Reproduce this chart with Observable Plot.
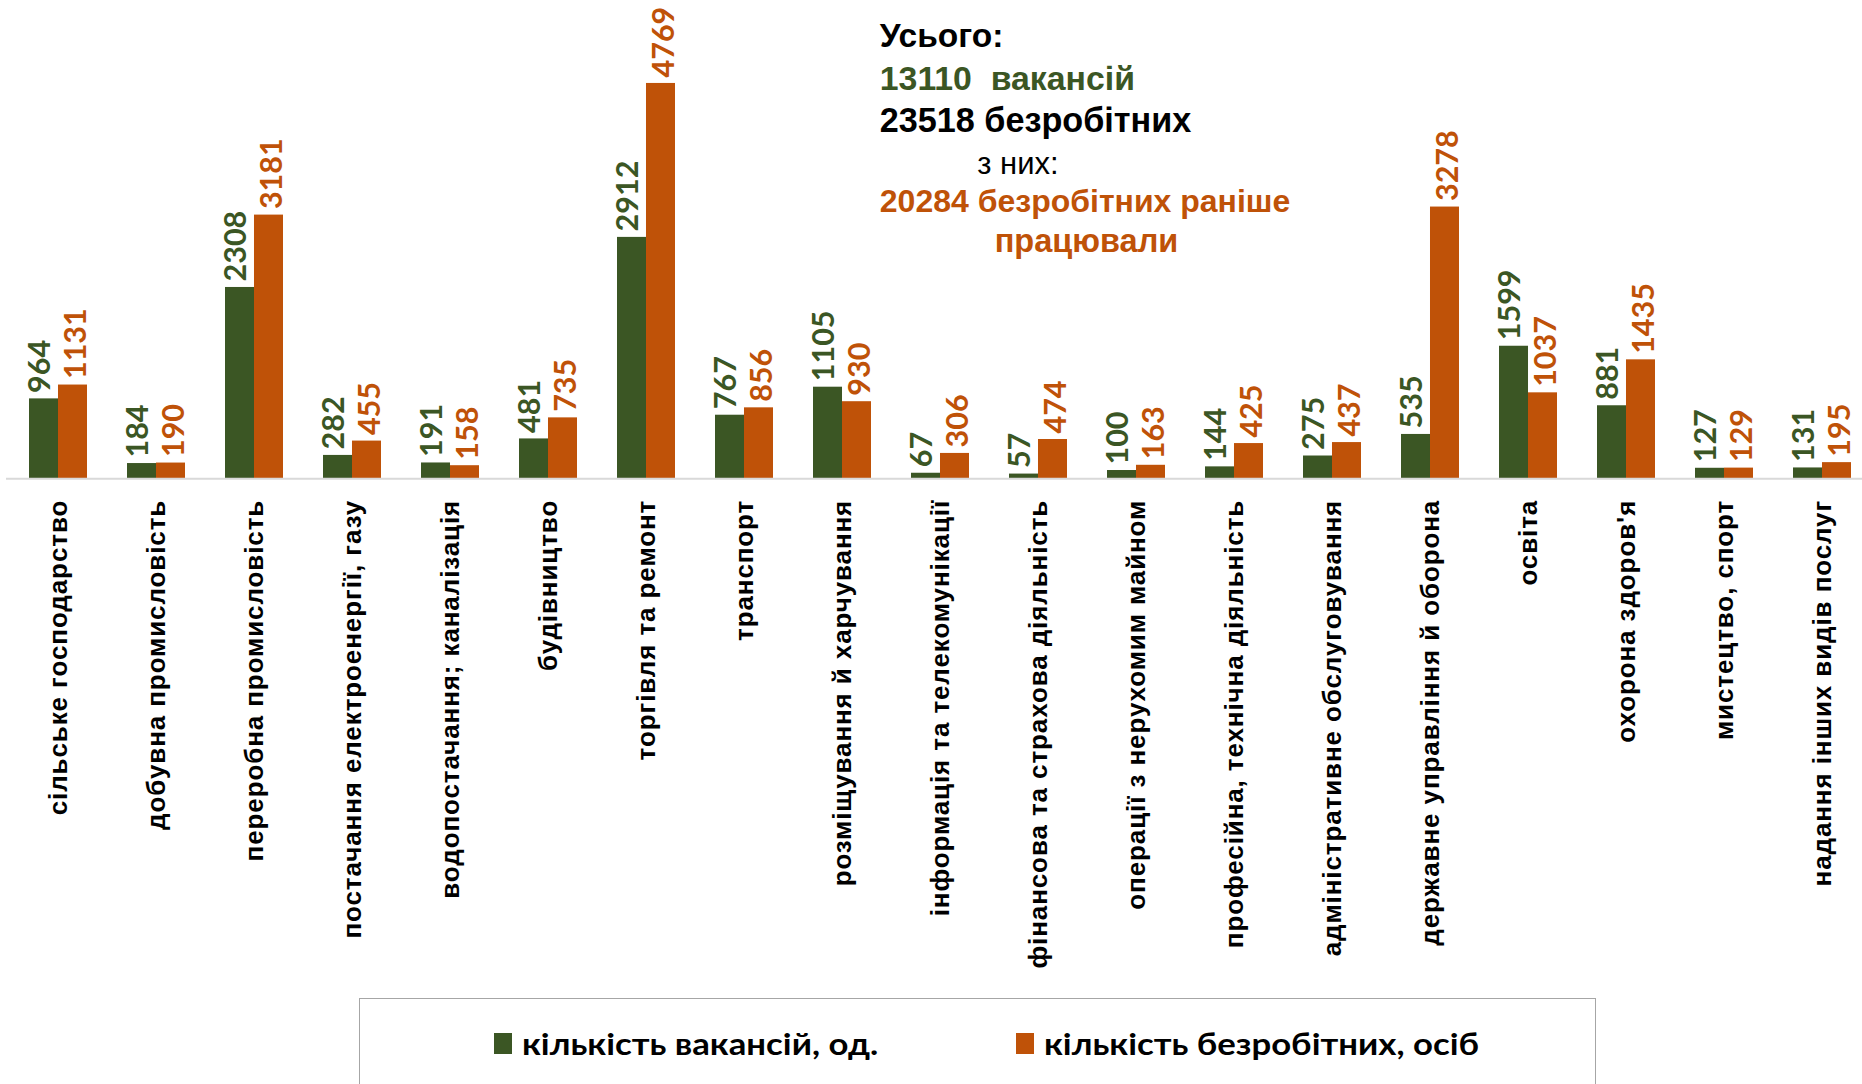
<!DOCTYPE html>
<html>
<head>
<meta charset="utf-8">
<script src="https://cdn.jsdelivr.net/npm/d3@7"></script>
<script src="https://cdn.jsdelivr.net/npm/@observablehq/plot@0.6"></script>
<style>
  html, body { margin: 0; padding: 0; background: #fff; }
  #wrap { position: relative; width: 1862px; height: 1084px; overflow: hidden; }
  #wrap svg g[aria-label="x-axis tick label"] text { letter-spacing: 0.9px; }
  #legend { position: absolute; left: 359px; top: 998px; width: 1237px; height: 90px;
            border: 1.5px solid #a6a6a6; border-bottom: none; box-sizing: border-box; }
  .sw { position: absolute; top: 34px; width: 18px; height: 21px; }
  .lt { position: absolute; top: 25px; font-family: Lato, sans-serif; font-weight: bold;
        font-size: 31px; line-height: 38px; color: #000; white-space: nowrap;
        transform: scaleX(1.12); transform-origin: 0 50%; }
</style>
</head>
<body>
<div id="wrap"></div>
<script>
const categories = [
  "сільське господарство",
  "добувна промисловість",
  "переробна промисловість",
  "постачання електроенергії, газу",
  "водопостачання; каналізація",
  "будівництво",
  "торгівля та ремонт",
  "транспорт",
  "розміщування й харчування",
  "інформація та телекомунікації",
  "фінансова та страхова діяльність",
  "операції з нерухомим майном",
  "професійна, технічна діяльність",
  "адміністративне обслуговування",
  "державне управління й оборона",
  "освіта",
  "охорона здоров'я",
  "мистецтво, спорт",
  "надання інших видів послуг"
];
const vacancies = [964, 184, 2308, 282, 191, 481, 2912, 767, 1105, 67, 57, 100, 144, 275, 535, 1599, 881, 127, 131];
const unemployed = [1131, 190, 3181, 455, 158, 735, 4769, 856, 930, 306, 474, 163, 425, 437, 3278, 1037, 1435, 129, 195];
const seriesNames = ["кількість вакансій, од.", "кількість безробітних, осіб"];
const summaryLines = [
  "Усього:",
  "13110\u00A0\u00A0вакансій",
  "23518 безробітних",
  "з них:",
  "20284 безробітних раніше",
  "працювали"
];

const GREEN = "#3b5624";
const ORANGE = "#bf5208";

const rows = categories.map((c, i) => ({cat: c, vac: vacancies[i], unemp: unemployed[i]}));

const W = 1862, H = 998;
const xRange = [6.6, 1873.8];
const padInner = 0.41;
const step = (xRange[1] - xRange[0]) / categories.length;
const bw = step * (1 - padInner);
const half = bw / 2;

const labelFont = {fontFamily: "Lato, sans-serif", fontWeight: "bold", fontSize: 30.5};
const annFamily = "Liberation Sans, Arial, sans-serif";

const chart = Plot.plot({
  width: W,
  height: H,
  marginTop: 0,
  marginLeft: 6,
  marginRight: 0,
  marginBottom: H - 478.3,
  x: {domain: categories, range: xRange, paddingInner: padInner, paddingOuter: padInner / 2, axis: null},
  y: {domain: [0, 5000], range: [478.3, 63.8], axis: null},
  marks: [
    Plot.barY(rows, {x: "cat", y: "vac", fill: GREEN, insetRight: half}),
    Plot.barY(rows, {x: "cat", y: "unemp", fill: ORANGE, insetLeft: half}),
    Plot.ruleY([0], {stroke: "#d9d9d9", strokeWidth: 2}),
    Plot.text(rows, {x: "cat", y: "vac", text: d => String(d.vac), rotate: -90, textAnchor: "start",
      lineAnchor: "middle", dx: -half / 2 - 4, dy: -6, fill: GREEN, ...labelFont}),
    Plot.text(rows, {x: "cat", y: "unemp", text: d => String(d.unemp), rotate: -90, textAnchor: "start",
      lineAnchor: "middle", dx: half / 2 + 3, dy: -6, fill: ORANGE, ...labelFont}),
    Plot.axisX({domain: categories, label: null, tickRotate: -90, tickSize: 0, tickPadding: 21,
      fontSize: 26, fontWeight: "bold", fontFamily: annFamily, fill: "#000"}),
    Plot.text([summaryLines[0]], {frameAnchor: "top-left", dx: 873.3, dy: 46.7, lineAnchor: "bottom", textAnchor: "start", fontWeight: "bold", fill: "#000", fontFamily: annFamily, fontSize: 33.5}),
    Plot.text([summaryLines[1]], {frameAnchor: "top-left", dx: 873.3, dy: 89.5, lineAnchor: "bottom", textAnchor: "start", fontWeight: "bold", fill: GREEN, fontFamily: annFamily, fontSize: 33.8}),
    Plot.text([summaryLines[2]], {frameAnchor: "top-left", dx: 873.3, dy: 131, lineAnchor: "bottom", textAnchor: "start", fontWeight: "bold", fill: "#000", fontFamily: annFamily, fontSize: 34.2}),
    Plot.text([summaryLines[3]], {frameAnchor: "top-left", dx: 970.7, dy: 173, lineAnchor: "bottom", textAnchor: "start", fontWeight: "normal", fill: "#000", fontFamily: annFamily, fontSize: 31}),
    Plot.text([summaryLines[4]], {frameAnchor: "top-left", dx: 873.3, dy: 211.7, lineAnchor: "bottom", textAnchor: "start", fontWeight: "bold", fill: ORANGE, fontFamily: annFamily, fontSize: 32}),
    Plot.text([summaryLines[5]], {frameAnchor: "top-left", dx: 1080, dy: 251, lineAnchor: "bottom", textAnchor: "middle", fontWeight: "bold", fill: ORANGE, fontFamily: annFamily, fontSize: 32.5})
  ]
});

const wrap = document.getElementById("wrap");
wrap.appendChild(chart);

const legend = document.createElement("div");
legend.id = "legend";
const items = [
  {name: seriesNames[0], color: GREEN, sw: 134, tx: 162},
  {name: seriesNames[1], color: ORANGE, sw: 656, tx: 684}
];
for (const it of items) {
  const s = document.createElement("div");
  s.className = "sw"; s.style.left = it.sw + "px"; s.style.background = it.color;
  const t = document.createElement("div");
  t.className = "lt"; t.style.left = it.tx + "px"; t.textContent = it.name;
  legend.appendChild(s); legend.appendChild(t);
}
wrap.appendChild(legend);
</script>
</body>
</html>
